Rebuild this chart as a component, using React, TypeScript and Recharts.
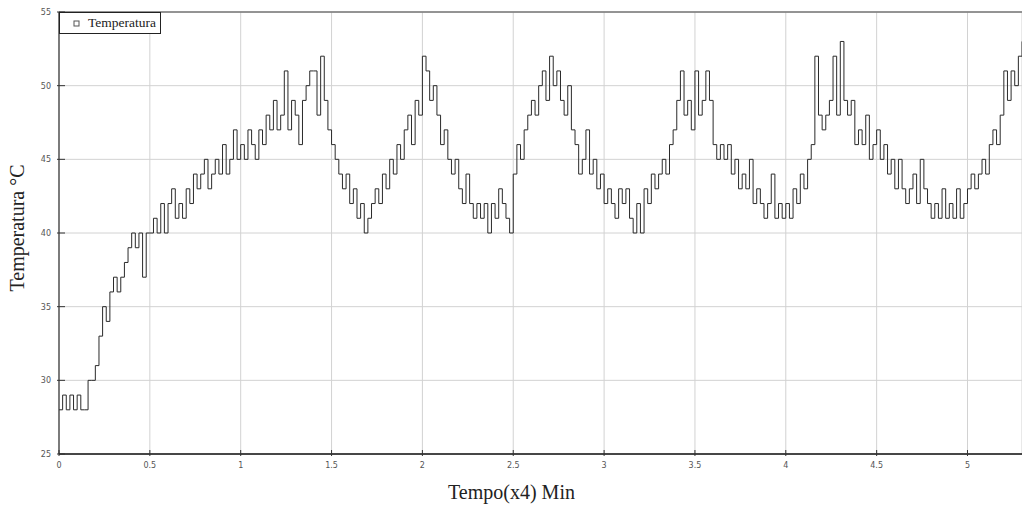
import React from 'react';
import { LineChart, Line, XAxis, YAxis, CartesianGrid, Legend, ReferenceLine, Label } from 'recharts';

// sample spacing on the time axis (x4 min)
const SAMPLE_STEP = 0.02;

// temperature readings, one per sample
const temperatures: number[] = [
    28, 29, 28, 29, 28,
    29, 28, 28, 30, 30,
    31, 33, 35, 34, 36,
    37, 36, 37, 38, 39,
    40, 39, 40, 37, 40,
    40, 41, 40, 42, 40,
    42, 43, 41, 42, 41,
    43, 42, 44, 43, 44,
    45, 43, 44, 45, 44,
    46, 44, 45, 47, 45,
    46, 45, 47, 46, 45,
    47, 46, 48, 47, 49,
    47, 48, 51, 47, 49,
    48, 46, 49, 50, 51,
    51, 48, 52, 49, 47,
    46, 45, 44, 43, 44,
    42, 43, 41, 42, 40,
    41, 42, 43, 42, 44,
    43, 45, 44, 46, 45,
    47, 48, 46, 49, 48,
    52, 51, 49, 50, 48,
    46, 47, 45, 44, 45,
    43, 42, 44, 42, 41,
    42, 41, 42, 40, 42,
    41, 43, 42, 41, 40,
    44, 46, 45, 47, 48,
    49, 48, 50, 51, 49,
    52, 50, 51, 49, 48,
    50, 47, 46, 44, 45,
    47, 44, 45, 43, 44,
    42, 43, 42, 41, 43,
    42, 43, 41, 40, 42,
    40, 43, 42, 44, 43,
    44, 45, 44, 46, 47,
    49, 51, 48, 49, 47,
    51, 48, 49, 51, 49,
    46, 45, 46, 45, 46,
    44, 45, 43, 44, 43,
    45, 42, 43, 42, 41,
    42, 44, 41, 42, 41,
    42, 41, 43, 42, 44,
    43, 45, 46, 52, 48,
    47, 48, 49, 52, 48,
    53, 49, 48, 49, 46,
    47, 46, 48, 45, 46,
    47, 45, 46, 44, 45,
    43, 45, 43, 42, 43,
    44, 42, 45, 43, 42,
    41, 42, 41, 43, 41,
    42, 41, 43, 41, 42,
    43, 44, 43, 44, 45,
    44, 46, 47, 46, 48,
    51, 49, 51, 50, 52,
    53,
];

const xTicks = [0, 0.5, 1, 1.5, 2, 2.5, 3, 3.5, 4, 4.5, 5];
const yTicks = [25, 30, 35, 40, 45, 50, 55];

const chartData = temperatures.map((temp, i) => ({
    t: Number((i * SAMPLE_STEP).toFixed(2)),
    temp,
}));

const XTick = (props: any) => {
    const { x, y, payload } = props;
    return (
        <g>
            <line x1={x} y1={y} x2={x} y2={y - 6} stroke="#333" strokeWidth={1} />
            <text x={x} y={y + 12} textAnchor="middle" fontSize={8} fill="#555" fontFamily="'DejaVu Sans', sans-serif">
                {payload.value}
            </text>
        </g>
    );
};

const YTick = (props: any) => {
    const { x, y, payload } = props;
    return (
        <g>
            <line x1={x} y1={y} x2={x + 8} y2={y} stroke="#333" strokeWidth={1} />
            <text x={x - 6} y={y + 3} textAnchor="end" fontSize={8} fill="#555" fontFamily="'DejaVu Sans', sans-serif">
                {payload.value}
            </text>
        </g>
    );
};

const LegendBox = () => (
    <div
        style={{
            width: 102,
            height: 22,
            border: '1px solid #222',
            background: '#fff',
            boxSizing: 'border-box',
            display: 'flex',
            alignItems: 'center',
            fontFamily: "'Liberation Serif', serif",
            fontSize: 13.5,
            color: '#222',
        }}
    >
        <svg width={28} height={22}>
            <rect x={14} y={9} width={5} height={5} fill="none" stroke="#555" strokeWidth={1} />
        </svg>
        <span>Temperatura</span>
    </div>
);

const App: React.FC = () => {
    return (
        <div style={{ position: 'absolute', left: 0, top: 0, width: 1022, height: 510, background: '#fff' }}>
            <LineChart width={1022} height={510} data={chartData} margin={{ top: 12, right: 0, bottom: 0, left: 0 }}>
                <CartesianGrid stroke="#d2d2d2" strokeWidth={1} />
                <XAxis
                    dataKey="t"
                    type="number"
                    domain={[0, 5.3]}
                    ticks={xTicks}
                    height={56}
                    tickSize={0}
                    tickLine={false}
                    tick={<XTick />}
                    axisLine={{ stroke: '#111', strokeWidth: 1.6 }}
                    allowDataOverflow
                >
                    <Label
                        content={({ viewBox }: any) => (
                            <text
                                x={viewBox.x + viewBox.width / 2 - 29}
                                y={viewBox.y + 45}
                                textAnchor="middle"
                                fontSize={20}
                                fill="#222"
                                fontFamily="'Liberation Serif', serif"
                            >
                                Tempo(x4) Min
                            </text>
                        )}
                    />
                </XAxis>
                <YAxis
                    type="number"
                    domain={[25, 55]}
                    ticks={yTicks}
                    width={59}
                    tickSize={0}
                    tickLine={false}
                    tick={<YTick />}
                    axisLine={{ stroke: '#333', strokeWidth: 1.2 }}
                >
                    <Label
                        content={({ viewBox }: any) => {
                            const cx = 24;
                            const cy = viewBox.y + viewBox.height / 2 - 5;
                            return (
                                <text
                                    x={cx}
                                    y={cy}
                                    transform={`rotate(-90, ${cx}, ${cy})`}
                                    textAnchor="middle"
                                    fontSize={20}
                                    fill="#222"
                                    fontFamily="'Liberation Serif', serif"
                                >
                                    Temperatura °C
                                </text>
                            );
                        }}
                    />
                </YAxis>
                <ReferenceLine y={55} stroke="#777" strokeWidth={1.5} ifOverflow="extendDomain" />
                <Legend
                    layout="horizontal"
                    align="center"
                    verticalAlign="middle"
                    wrapperStyle={{ top: 12, left: 59, width: 102, height: 22 }}
                    content={() => <LegendBox />}
                />
                <Line
                    type="stepAfter"
                    dataKey="temp"
                    name="Temperatura"
                    stroke="#2a2a2a"
                    strokeWidth={1}
                    dot={false}
                    isAnimationActive={false}
                />
            </LineChart>
        </div>
    );
};

export default App;
